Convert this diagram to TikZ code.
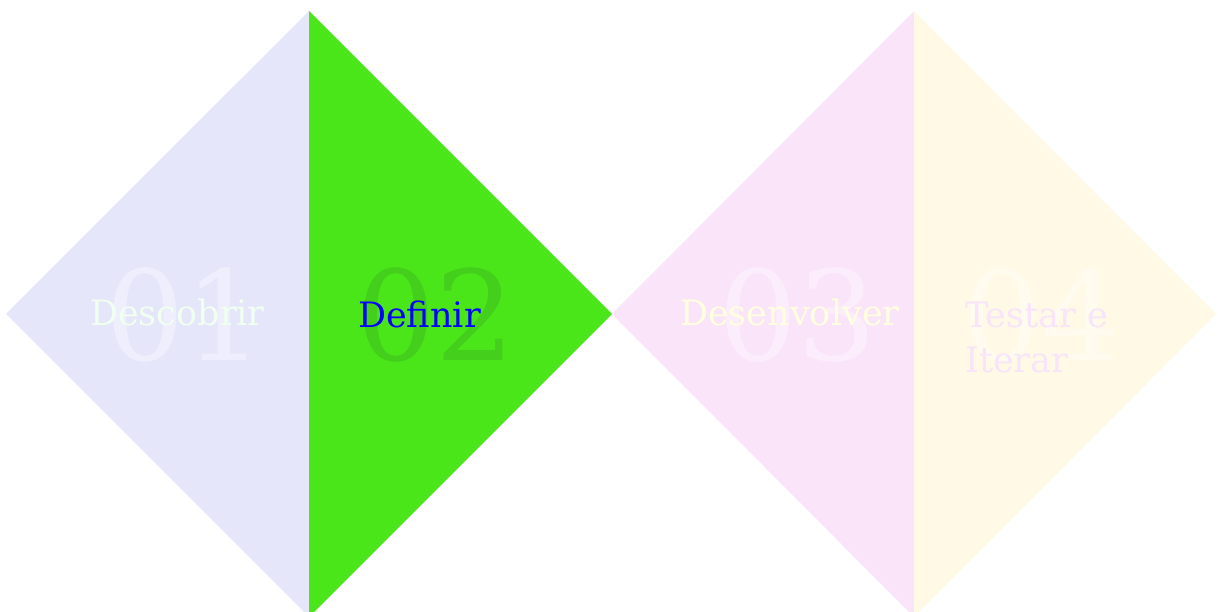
\documentclass[tikz,border=0pt]{standalone}
\usepackage{fontspec}
\setmainfont{DejaVu Serif}
\usepackage{tikz}
\usetikzlibrary{positioning}
\definecolor{lavfill}{HTML}{E6E6FA}
\definecolor{greenfill}{HTML}{4AE61A}
\definecolor{pinkfill}{HTML}{FAE4FA}
\definecolor{creamfill}{HTML}{FFF9E6}
\definecolor{numone}{HTML}{EEEEFC}
\definecolor{numtwo}{HTML}{43CF1C}
\definecolor{numthree}{HTML}{FCEDFC}
\definecolor{numfour}{HTML}{FFFBEF}
\definecolor{txtone}{HTML}{F0FFF0}
\definecolor{txttwo}{HTML}{0000FF}
\definecolor{txtthree}{HTML}{FFFFE0}
\definecolor{txtfour}{HTML}{F9E4F9}
\tikzset{
  bignum/.style={inner sep=0pt, anchor=base, font=\fontsize{125}{125}\selectfont},
  steplabel/.style={inner sep=0pt, anchor=base west, align=left, font=\fontsize{35}{45}\selectfont}
}

\begin{document}
\begin{tikzpicture}[x=1pt, y=-1pt]
        \useasboundingbox (0,0) rectangle (1218,612);
        \clip (0,0) rectangle (1218,612);
        % left diamond
        \coordinate (ltop) at (309,11);
        \coordinate (lleft) at (6,314);
        \coordinate (lbot) at (309,617);
        \coordinate (lright) at (612,314);
        % right diamond
        \coordinate (rtop) at (914,11);
        \coordinate (rleft) at (612,314);
        \coordinate (rbot) at (914,617);
        \coordinate (rright) at (1216,314);
        
        \fill[lavfill] (ltop) -- (lleft) -- (lbot) -- cycle;
        \fill[greenfill] (ltop) -- (lright) -- (lbot) -- cycle;
        \fill[pinkfill] (rtop) -- (rleft) -- (rbot) -- cycle;
        \fill[creamfill] (rtop) -- (rright) -- (rbot) -- cycle;
        
        \node[bignum, text=numone] (n1) at (185,360) {01};
        \node[bignum, text=numtwo] (n2) at (436,360) {02};
        \node[bignum, text=numthree] (n3) at (798,360) {03};
        \node[bignum, text=numfour] (n4) at (1042,360) {04};
        
        \node[steplabel, text=txtone] (descobrir) at (90,325) {Descobrir};
        \node[steplabel, text=txttwo] (definir) at (358,327) {Definir};
        \node[steplabel, text=txtthree] (desenvolver) at (680,325) {Desenvolver};
        \node[steplabel, text=txtfour, anchor=north west] (testar) at (965,302) {Testar e\\Iterar};
        \end{tikzpicture}
\end{document}
